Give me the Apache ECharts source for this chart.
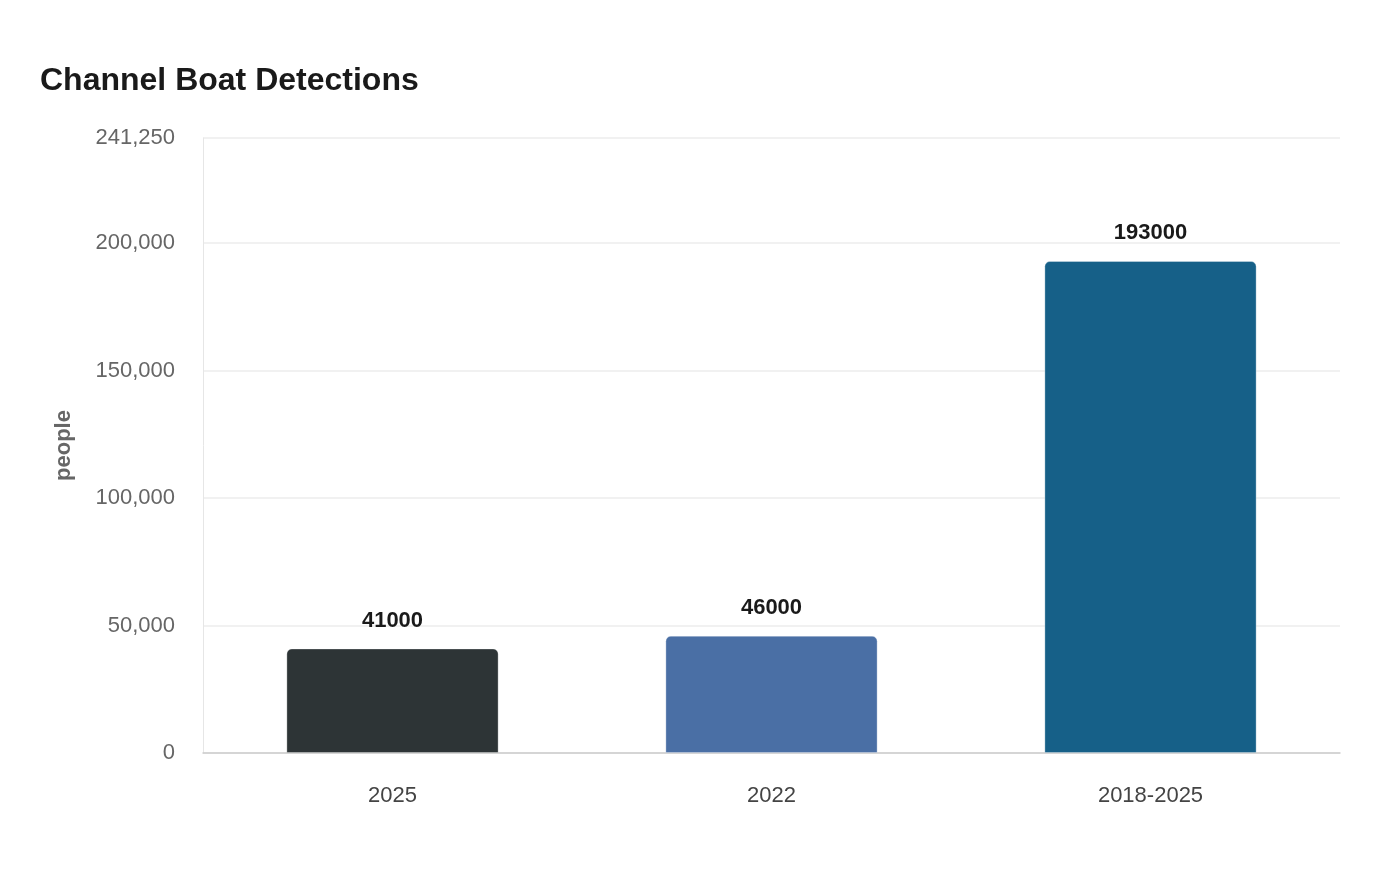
<!DOCTYPE html>
<html>
<head>
<meta charset="utf-8">
<script src="https://cdn.jsdelivr.net/npm/echarts@6/dist/echarts.min.js"></script>
<style>
  html, body { margin: 0; padding: 0; background: #fff; }
  #chart { width: 1400px; height: 880px; }
</style>
</head>
<body>
<div id="chart"></div>
<script>
var categories = ['2025', '2022', '2018-2025'];
var values = [41000, 46000, 193000];
var barColors = ['#2d3436', '#4a6fa5', '#166088'];

var myChart = echarts.init(document.getElementById('chart'));

var option = {
    backgroundColor: '#ffffff',
    textStyle: { fontFamily: 'Liberation Sans, Arial, sans-serif' },
    title: {
        text: 'Channel Boat Detections',
        left: 35,
        top: 60,
        textStyle: { fontSize: 32, fontWeight: 'bold', color: '#1a1a1a' }
    },
    grid: { left: 203, right: 60, top: 138, bottom: 127 },
    xAxis: {
        type: 'category',
        data: categories,
        axisLine: { lineStyle: { color: '#cccccc', width: 1.5 } },
        axisTick: { show: false },
        axisLabel: { fontSize: 22, color: '#444444', margin: 32 }
    },
    yAxis: {
        type: 'value',
        min: 0,
        max: 241250,
        interval: 50000,
        name: 'people',
        nameLocation: 'middle',
        nameGap: 128,
        nameTextStyle: { fontSize: 22, fontWeight: 'bold', color: '#666666' },
        axisLine: { show: true, lineStyle: { color: '#e6e6e6' } },
        axisTick: { show: false },
        axisLabel: {
            fontSize: 22,
            color: '#666666',
            margin: 28,
            padding: [3, 0, 0, 0],
            formatter: function (v) { return v.toLocaleString('en-US'); }
        },
        splitLine: { lineStyle: { color: '#ececec', width: 1.5 } }
    },
    series: [
        {
            type: 'bar',
            barWidth: '56%',
            data: values.map(function (v, i) {
                return { value: v, itemStyle: { color: barColors[i] } };
            }),
            itemStyle: {
                borderRadius: [5, 5, 0, 0],
                borderColor: 'rgba(255,255,255,0.3)',
                borderWidth: 1
            },
            label: {
                show: true,
                position: 'top',
                distance: 17,
                fontSize: 22,
                fontWeight: 'bold',
                color: '#1a1a1a'
            }
        }
    ]
};

myChart.setOption(option);
</script>
</body>
</html>
